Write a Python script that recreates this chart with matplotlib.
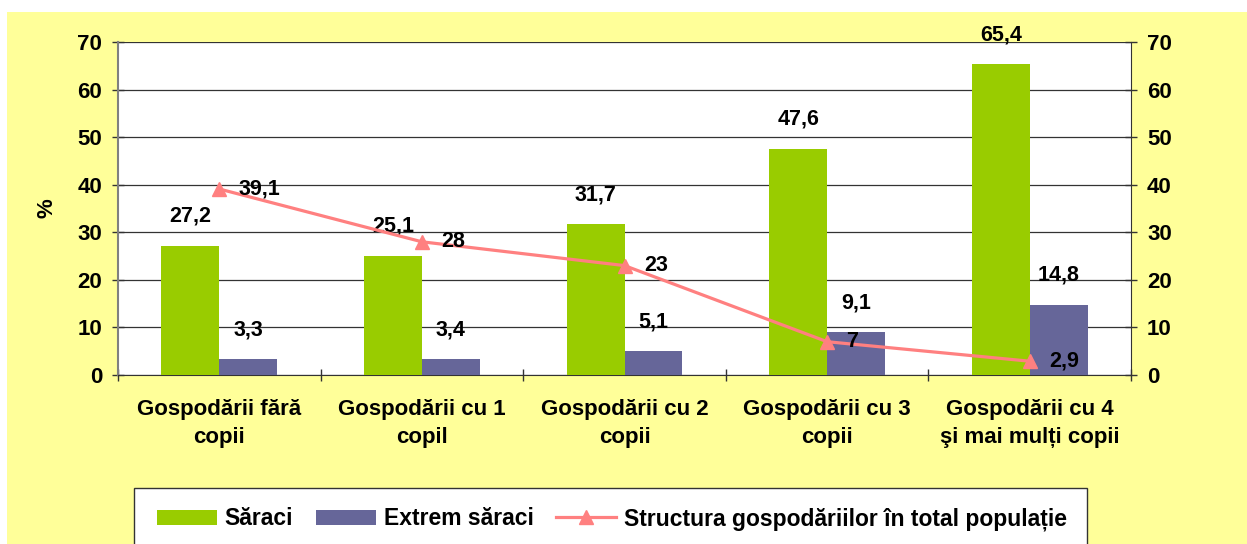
import matplotlib
matplotlib.use("Agg")
import matplotlib.pyplot as plt
from matplotlib.patches import Rectangle, Patch
from matplotlib.lines import Line2D
import numpy as np

categories = ["Gospodării fără\ncopii", "Gospodării cu 1\ncopil", "Gospodării cu 2\ncopii",
              "Gospodării cu 3\ncopii", "Gospodării cu 4\nşi mai mulți copii"]
saraci = [27.2, 25.1, 31.7, 47.6, 65.4]
extrem = [3.3, 3.4, 5.1, 9.1, 14.8]
structura = [39.1, 28, 23, 7, 2.9]
yticks = [0, 10, 20, 30, 40, 50, 60, 70]

def fmt(v):
    s = ("%g" % v)
    return s.replace(".", ",")

plt.rcParams['font.family'] = ['Liberation Sans', 'DejaVu Sans']
plt.rcParams['font.weight'] = 'bold'

W, H = 1247, 544
fig = plt.figure(figsize=(W / 100, H / 100), dpi=100, facecolor="white")
fig.patches.append(Rectangle((7 / W, 0), 1 - 7 / W, 1 - 12 / H, transform=fig.transFigure,
                             facecolor="#FFFF99", edgecolor="none", zorder=-10))

L, R, T, B = 118, 1131, 42, 375
ax = fig.add_axes([L / W, 1 - B / H, (R - L) / W, (B - T) / H])
ax.set_facecolor("white")

x = np.arange(len(categories))
bw = 0.286
green = "#99CC00"
purple = "#666699"
pink = "#FF8080"

ax.bar(x - bw / 2, saraci, width=bw, color=green, zorder=3)
ax.bar(x + bw / 2, extrem, width=bw, color=purple, zorder=3)

ax.set_xlim(-0.5, len(categories) - 0.5)
ax.set_ylim(0, 70)
ax.set_yticks(yticks)
ax.set_yticklabels([str(t) for t in yticks], fontsize=16, fontweight='bold')
ax.grid(axis='y', color="#333333", linewidth=0.9, zorder=0)
ax.set_xticks(np.arange(len(categories) + 1) - 0.5, minor=False)
ax.set_xticklabels([])
ax.set_xticks(x, minor=True)
ax.set_xticklabels(categories, minor=True, fontsize=16, fontweight='bold', linespacing=1.45)
ax.tick_params(axis='x', which='minor', length=0, pad=17)
ax.tick_params(axis='x', which='major', direction='inout', length=9, width=1, color="#333333")
ax.tick_params(axis='y', direction='inout', length=9, width=1, color="#333333", pad=7)
ax.spines['top'].set_visible(False)
ax.spines['left'].set_color("#808080")
ax.spines['left'].set_linewidth(1.5)
ax.spines['bottom'].set_color("#333333")
ax.spines['right'].set_visible(False)
ax.set_ylabel("%", fontsize=16, fontweight='bold', labelpad=14)

for xi, v in zip(x, saraci):
    ax.annotate(fmt(v), (xi - bw / 2, v), xytext=(0, 21), textcoords='offset points',
                ha='center', va='center', fontsize=15.5, fontweight='bold', zorder=5)
for xi, v in zip(x, extrem):
    ax.annotate(fmt(v), (xi + bw / 2, v), xytext=(0, 21), textcoords='offset points',
                ha='center', va='center', fontsize=15.5, fontweight='bold', zorder=5)

ax2 = ax.twinx()
ax2.set_ylim(0, 70)
ax2.set_yticks(yticks)
ax2.set_yticklabels([str(t) for t in yticks], fontsize=16, fontweight='bold')
ax2.tick_params(axis='y', direction='inout', length=9, width=1, color="#333333", pad=7)
for s in ['top', 'left', 'bottom']:
    ax2.spines[s].set_visible(False)
ax2.spines['right'].set_color("#333333")
ax2.plot(x, structura, color=pink, linewidth=2.3, marker='^', markersize=10,
         markeredgecolor=pink, markerfacecolor=pink, zorder=4)
for xi, v in zip(x, structura):
    ax2.annotate(fmt(v), (xi, v), xytext=(14, 0), textcoords='offset points',
                 ha='left', va='center', fontsize=15.5, fontweight='bold', zorder=6)

# legend box
fig.patches.append(Rectangle((134 / W, 1 - 552 / H), (1087 - 134) / W, (552 - 488) / H,
                             transform=fig.transFigure, facecolor="white",
                             edgecolor="#333333", linewidth=1.0, zorder=1))
handles = [Patch(facecolor=green, edgecolor='none'),
           Patch(facecolor=purple, edgecolor='none'),
           Line2D([0], [0], color=pink, linewidth=2.3, marker='^', markersize=10)]
labels = ["Săraci", "Extrem săraci", "Structura gospodăriilor în total populație"]
leg = fig.legend(handles, labels, loc='center', bbox_to_anchor=(612 / W, 1 - 519 / H),
                 ncol=3, frameon=False, handlelength=2.6, handleheight=0.65,
                 handletextpad=0.35, columnspacing=1.0, prop={'weight': 'bold', 'size': 16.5})
leg.set_zorder(5)

fig.savefig("out.png", dpi=100, facecolor=fig.get_facecolor())
